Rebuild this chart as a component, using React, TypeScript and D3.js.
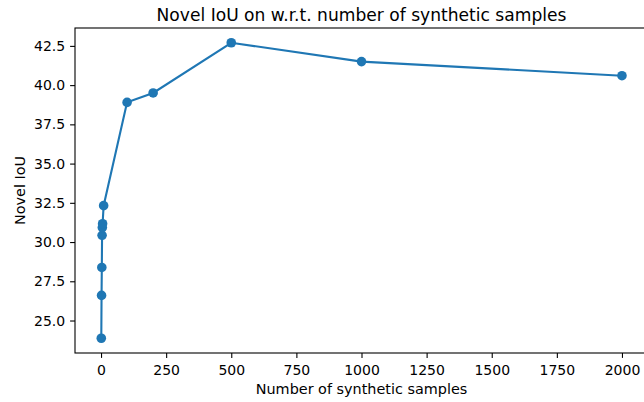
import React, { useEffect, useRef } from 'react';
import * as d3 from 'd3';

// number of synthetic samples vs novel IoU
const samples = [1, 2, 3, 4, 5, 6, 10, 100, 200, 500, 1000, 2000];
const novelIoU = [23.87, 26.6, 28.38, 30.43, 30.92, 31.17, 32.32, 38.9, 39.5, 42.7, 41.5, 40.6];
const xTicks = [0, 250, 500, 750, 1000, 1250, 1500, 1750, 2000];
const yTicks = [25.0, 27.5, 30.0, 32.5, 35.0, 37.5, 40.0, 42.5];

export default function App() {
  const ref = useRef<SVGSVGElement>(null);

  useEffect(() => {
    const svg = d3.select(ref.current);
    svg.selectAll('*').remove();

    const margin = { top: 28, right: -4, bottom: 49, left: 75 };
    const W = 644, H = 402;
    const color = '#1f77b4';
    const font = 'DejaVu Sans, sans-serif';

    const x = d3.scaleLinear().domain([-99.95, 2099.95]).range([margin.left, W - margin.right]);
    const y = d3.scaleLinear().domain([22.93, 43.64]).range([H - margin.bottom, margin.top]);

    const line = d3.line<number>()
      .x((d, i) => x(samples[i]))
      .y(d => y(d));

    svg.append('path')
      .datum(novelIoU)
      .attr('fill', 'none')
      .attr('stroke', color)
      .attr('stroke-width', 2.1)
      .attr('d', line);

    svg.append('g')
      .selectAll('circle')
      .data(novelIoU)
      .join('circle')
      .attr('cx', (d, i) => x(samples[i]))
      .attr('cy', d => y(d))
      .attr('r', 4.8)
      .attr('fill', color);

    const xAxis = svg.append('g')
      .attr('transform', `translate(0,${H - margin.bottom})`)
      .call(d3.axisBottom(x).tickValues(xTicks).tickFormat(d3.format('d')).tickSizeOuter(0).tickSize(4.9).tickPadding(7.5));
    const yAxis = svg.append('g')
      .attr('transform', `translate(${margin.left},0)`)
      .call(d3.axisLeft(y).tickValues(yTicks).tickFormat(d3.format('.1f')).tickSizeOuter(0).tickSize(4.9).tickPadding(4.9));

    [xAxis, yAxis].forEach(g => {
      g.selectAll('text').attr('font-family', font).attr('font-size', 14).attr('fill', '#000');
      g.selectAll('line').attr('stroke', '#000').attr('stroke-width', 1.1);
      g.select('.domain').remove();
    });

    // spines
    svg.append('rect')
      .attr('x', margin.left)
      .attr('y', margin.top)
      .attr('width', W - margin.right - margin.left)
      .attr('height', H - margin.bottom - margin.top)
      .attr('fill', 'none')
      .attr('stroke', '#000')
      .attr('stroke-width', 1.1);

    svg.append('text')
      .attr('x', (margin.left + W - margin.right) / 2)
      .attr('y', 21)
      .attr('text-anchor', 'middle')
      .attr('font-family', font)
      .attr('font-size', 17.1)
      .text('Novel IoU on w.r.t. number of synthetic samples');

    svg.append('text')
      .attr('x', (margin.left + W - margin.right) / 2)
      .attr('y', 394)
      .attr('text-anchor', 'middle')
      .attr('font-family', font)
      .attr('font-size', 14.4)
      .text('Number of synthetic samples');

    svg.append('text')
      .attr('transform', `translate(25,${(margin.top + H - margin.bottom) / 2}) rotate(-90)`)
      .attr('text-anchor', 'middle')
      .attr('font-family', font)
      .attr('font-size', 14.4)
      .text('Novel IoU');
  }, []);

  return (
    <svg ref={ref} width={644} height={402}
      style={{ position: 'absolute', left: 0, top: 0, background: '#fff' }} />
  );
}
